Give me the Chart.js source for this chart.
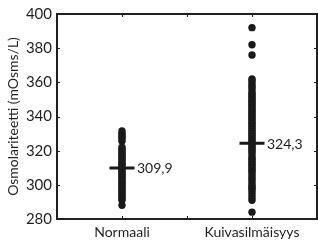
<!DOCTYPE html>
<html>
<head>
<meta charset="utf-8">
<script src="https://cdn.jsdelivr.net/npm/chart.js@4/dist/chart.umd.min.js"></script>
<style>
html,body{margin:0;padding:0;background:#fff;}
#wrap{width:318px;height:244px;}
</style>
</head>
<body>
<div id="wrap"><canvas id="c" width="318" height="244"></canvas></div>
<script>
const categories = ['Normaali', 'Kuivasilmäisyys'];
const normaaliValues = [288, 291, 292, 293, 294, 295, 296, 297, 298, 299, 300, 301, 302, 303, 304, 305, 306, 307, 308, 309, 310, 311, 312, 313, 314, 315, 316, 317, 318, 319, 320, 321, 322, 325.5, 327, 328, 329, 330, 331.5];
const kuivaValues = [284, 291, 292.5, 294, 295.5, 297, 298, 299, 300, 301.5, 303, 304, 305.5, 307, 308, 309, 310, 311, 312, 313, 314, 315, 316, 317.5, 319, 320, 321, 322, 323, 324, 325, 326, 327, 328, 329, 330, 331, 332, 333, 334, 335, 336, 337, 338, 339, 340, 341, 342, 343, 344, 345, 346, 347, 348, 349, 350, 351, 352, 353, 354, 355.5, 357, 358, 359.5, 361, 362, 376, 382, 392];
const meanValues = [309.9, 324.3];
const meanLabels = ['309,9', '324,3'];
const yTicks = [280, 300, 320, 340, 360, 380, 400];

const TEXT = '#231f20';
const FONT = 'Lato, "Open Sans", sans-serif';

const framePlugin = {
  id: 'frame',
  afterDatasetsDraw(chart) {
    const ctx = chart.ctx;
    const a = chart.chartArea;
    const xs = chart.scales.x, ys = chart.scales.y;
    ctx.save();
    ctx.strokeStyle = TEXT;
    ctx.lineWidth = 1;
    yTicks.forEach(v => {
      const py = Math.round(ys.getPixelForValue(v)) + 0.5;
      ctx.beginPath();
      ctx.moveTo(a.left, py); ctx.lineTo(a.left + 3, py);
      ctx.moveTo(a.right, py); ctx.lineTo(a.right - 3, py);
      ctx.stroke();
    });
    const p0 = xs.getPixelForValue(0), p1 = xs.getPixelForValue(1);
    [p0, (p0 + p1) / 2, p1].forEach(px => {
      const x = Math.round(px) + 0.5;
      ctx.beginPath();
      ctx.moveTo(x, a.bottom); ctx.lineTo(x, a.bottom - 3);
      ctx.moveTo(x, a.top); ctx.lineTo(x, a.top + 3);
      ctx.stroke();
    });
    ctx.lineWidth = 2;
    ctx.strokeRect(a.left, a.top, a.right - a.left, a.bottom - a.top);
    ctx.fillStyle = TEXT;
    ctx.font = '14px ' + FONT;
    ctx.textAlign = 'center';
    ctx.textBaseline = 'middle';
    categories.forEach((c, i) => {
      ctx.fillText(c, xs.getPixelForValue(i), a.bottom + 13);
    });
    ctx.textAlign = 'left';
    meanValues.forEach((m, i) => {
      const px = xs.getPixelForValue(i) + 15;
      const py = ys.getPixelForValue(m);
      ctx.fillText(meanLabels[i], px, py + 1);
    });
    ctx.restore();
  }
};

const ptData = [];
normaaliValues.forEach(v => ptData.push({x: categories[0], y: v}));
kuivaValues.forEach(v => ptData.push({x: categories[1], y: v}));
const meanData = meanValues.map((m, i) => ({x: categories[i], y: m}));

new Chart(document.getElementById('c'), {
  type: 'scatter',
  data: {
    labels: categories,
    datasets: [
      {data: meanData, pointStyle: 'line', pointRadius: 12.5, pointBorderWidth: 3, borderColor: '#1a1a1a', backgroundColor: '#1a1a1a', order: 0},
      {data: ptData, pointStyle: 'circle', pointRadius: 3.7, pointBorderWidth: 0, backgroundColor: '#1a1a1a', borderColor: '#1a1a1a', order: 1}
    ]
  },
  options: {
    responsive: false,
    animation: false,
    events: [],
    layout: {autoPadding: false, padding: {top: 12, right: 1, left: 0, bottom: 0}},
    plugins: {legend: {display: false}, tooltip: {enabled: false}},
    scales: {
      x: {type: 'category', labels: categories, offset: true, grid: {display: false, drawTicks: false}, border: {display: false}, ticks: {display: false}, afterFit(s) { s.height = 25; }},
      y: {type: 'linear', min: 280, max: 400, afterBuildTicks(s) { s.ticks = yTicks.map(v => ({value: v})); }, grid: {display: false, drawTicks: false}, border: {display: false},
        ticks: {color: TEXT, font: {family: FONT, size: 15}, padding: 5},
        title: {display: true, text: 'Osmolariteetti (mOsms/L)', color: TEXT, font: {family: FONT, size: 14}, padding: {top: 5, bottom: 0}},
        afterFit(s) { s.width = 57; }}
    }
  },
  plugins: [framePlugin]
});
</script>
</body>
</html>
